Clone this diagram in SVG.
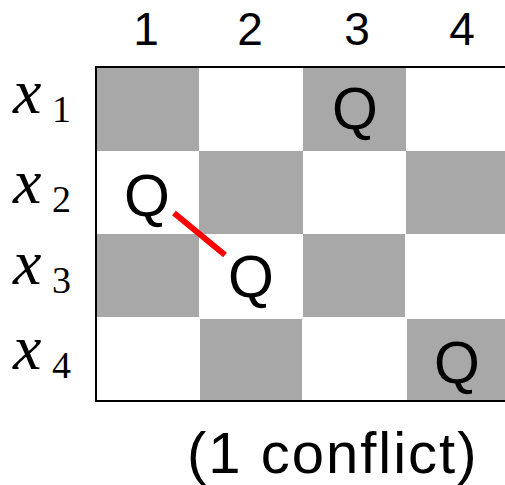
<svg xmlns="http://www.w3.org/2000/svg" width="505" height="485" viewBox="0 0 505 485">
<style>
.dk{fill:#a8a8a8}
.q{font-family:"Liberation Sans",Arial,sans-serif;font-size:59px;fill:#000;text-anchor:middle}
.col{font-family:"Liberation Sans",Arial,sans-serif;font-size:46px;fill:#000;text-anchor:middle}
.xv{font-family:"Liberation Serif","Times New Roman",serif;font-style:italic;font-size:64px;fill:#000}
.sub{font-family:"Liberation Serif","Times New Roman",serif;font-size:38px;fill:#000}
.cap{font-family:"Liberation Sans",Arial,sans-serif;font-size:58px;fill:#000;letter-spacing:2px}
</style>
<rect width="505" height="485" fill="#fff"/>
<g id="board">
<rect class="dk" x="97" y="67" width="102" height="84"/>
<rect class="dk" x="303" y="67" width="103" height="84"/>
<rect class="dk" x="199" y="151" width="104" height="83"/>
<rect class="dk" x="406" y="151" width="99" height="83"/>
<rect class="dk" x="97" y="234" width="102" height="83"/>
<rect class="dk" x="303" y="234" width="102" height="83"/>
<rect class="dk" x="200" y="319" width="102" height="81"/>
<rect class="dk" x="407" y="319" width="98" height="81"/>
<path d="M505,67 H96 V401 H505" fill="none" stroke="#000" stroke-width="2"/>
</g>
<g id="col-labels">
<text class="col" x="146" y="45">1</text>
<text class="col" x="250" y="45">2</text>
<text class="col" x="357" y="45">3</text>
<text class="col" x="462" y="45">4</text>
</g>
<g id="row-labels">
<text x="13" y="113" class="xv">x</text><text x="52" y="122" class="sub">1</text>
<text x="13" y="203" class="xv">x</text><text x="52" y="212" class="sub">2</text>
<text x="13" y="284" class="xv">x</text><text x="52" y="293" class="sub">3</text>
<text x="13" y="369" class="xv">x</text><text x="52" y="378" class="sub">4</text>
</g>
<g id="queens">
<text id="q1" class="q" x="355" y="129">Q</text>
<text id="q2" class="q" x="147" y="216">Q</text>
<text id="q3" class="q" x="251" y="297">Q</text>
<text id="q4" class="q" x="457" y="383">Q</text>
</g>
<g id="connectors">
<line x1="174" y1="213" x2="225" y2="255" stroke="#f00" stroke-width="6"/>
</g>
<text class="cap" x="187" y="473">(1 conflict)</text>
</svg>
